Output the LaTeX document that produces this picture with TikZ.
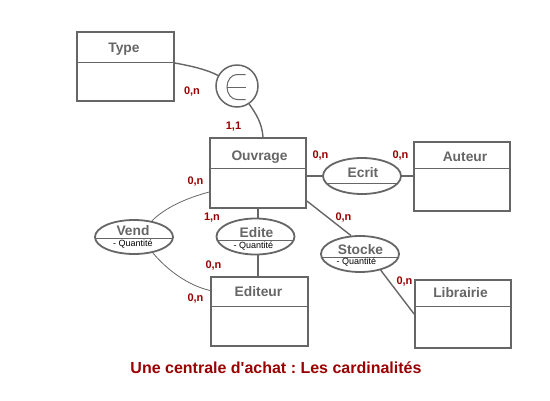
\documentclass[tikz,border=0pt]{standalone}
\usepackage{fontspec}
\setmainfont{Liberation Sans}
\frenchspacing
\usetikzlibrary{shapes.geometric,calc}
\definecolor{linegray}{HTML}{666666}
\definecolor{txtgray}{HTML}{666666}
\definecolor{cardred}{HTML}{990000}
\tikzset{
  entity/.style={draw=linegray, line width=1.8pt, rectangle, inner sep=0pt, fill=white},
  assoc/.style={draw=linegray, line width=1.8pt, ellipse, inner sep=0pt, minimum width=78pt, minimum height=36pt, fill=white},
  divider/.style={draw=linegray, line width=0.9pt},
  conn/.style={draw=linegray, line width=1.4pt},
  thinconn/.style={draw=linegray, line width=0.8pt},
  ename/.style={font=\fontsize{13.8}{15}\selectfont\bfseries, text=txtgray, inner sep=0pt},
  aname/.style={font=\fontsize{13.8}{15}\selectfont\bfseries, text=txtgray, inner sep=0pt},
  attr/.style={font=\fontsize{9}{10}\selectfont, text=black, inner sep=0pt},
  card/.style={font=\fontsize{11}{12}\selectfont\bfseries, text=cardred, inner sep=0pt},
  titletext/.style={font=\fontsize{16}{18}\selectfont\bfseries, text=cardred, inner sep=0pt}
}
\begin{document}
\begin{tikzpicture}[x=1pt,y=-1pt]
\useasboundingbox[fill=white] (0,0) rectangle (550,400);

% entities
\node[entity, minimum width=97pt, minimum height=69pt] (type) at (125.5,66.5) {};
\draw[divider] ([yshift=-31pt]type.north west) -- ([yshift=-31pt]type.north east);
\node[ename] (typel) at (124,49) {Type};

\node[entity, minimum width=96pt, minimum height=70pt] (ouvrage) at (258,173) {};
\draw[divider] ([yshift=-31pt]ouvrage.north west) -- ([yshift=-31pt]ouvrage.north east);
\node[ename] (ouvragel) at (259.5,157) {Ouvrage};

\node[entity, minimum width=96pt, minimum height=69pt] (auteur) at (462,176.5) {};
\draw[divider] ([yshift=-27pt]auteur.north west) -- ([yshift=-27pt]auteur.north east);
\node[ename] (auteurl) at (465,157) {Auteur};

\node[entity, minimum width=96pt, minimum height=68pt] (librairie) at (463,314) {};
\draw[divider] ([yshift=-27pt]librairie.north west) -- ([yshift=-27pt]librairie.north east);
\node[ename] (librairiel) at (460.5,293) {Librairie};

\node[entity, minimum width=97pt, minimum height=69pt] (editeur) at (259.5,311.5) {};
\draw[divider] ([yshift=-30pt]editeur.north west) -- ([yshift=-30pt]editeur.north east);
\node[ename] (editeurl) at (258.5,292) {Editeur};

% associations
\node[assoc] (ecrit) at (362,176) {};
\begin{scope}
  \clip (ecrit.center) ellipse [x radius=39, y radius=18];
  \draw[divider] ($(ecrit.center)+(-40,7)$) -- ($(ecrit.center)+(40,7)$);
\end{scope}
\node[aname] (ecritl) at (363,173) {Ecrit};

\node[assoc] (edite) at (255.5,236.5) {};
\begin{scope}
  \clip (edite.center) ellipse [x radius=39, y radius=18];
  \draw[divider] ($(edite.center)+(-40,3.5)$) -- ($(edite.center)+(40,3.5)$);
\end{scope}
\node[aname] (editel) at (256.5,232.5) {Edite};
\node[attr] (editea) at (253.5,246.5) {- Quantité};

\node[assoc] (stocke) at (360,254) {};
\begin{scope}
  \clip (stocke.center) ellipse [x radius=39, y radius=18];
  \draw[divider] ($(stocke.center)+(-40,3.5)$) -- ($(stocke.center)+(40,3.5)$);
\end{scope}
\node[aname] (stockel) at (360.5,249.5) {Stocke};
\node[attr] (stockea) at (356.5,262) {- Quantité};

\node[assoc, minimum height=34pt] (vend) at (134,237) {};
\begin{scope}
  \clip (vend.center) ellipse [x radius=39, y radius=17];
  \draw[divider] ($(vend.center)+(-40,1.5)$) -- ($(vend.center)+(40,1.5)$);
\end{scope}
\node[aname] (vendl) at (133,230.5) {Vend};
\node[attr] (venda) at (133,244) {- Quantité};

% element-of circle
\node[draw=linegray, line width=1.5pt, circle, minimum size=42pt, inner sep=0pt] (elt) at (237,86) {};
\draw[draw=linegray, line width=1pt]
  ($(elt.center)+(8.5,-11.5)$) -- ($(elt.center)+(0,-11.5)$)
  arc[start angle=270, end angle=90, x radius=10, y radius=12.5]
  -- ($(elt.center)+(8.5,13.5)$);
\draw[draw=linegray, line width=1pt] ($(elt.center)+(-10,1)$) -- ($(elt.center)+(8.5,1)$);

% connectors
\draw[conn] ([yshift=3.5pt]type.east) .. controls +(16,3) and +(-11,-6) .. (elt.151);
\draw[conn] (elt.-56) .. controls +(7,10) and +(-1,-14) .. ([xshift=5pt]ouvrage.north);
\draw[conn] ([yshift=-3pt]ouvrage.east) -- (ecrit.west);
\draw[conn] (ecrit.east) -- (ecrit.east -| auteur.west);
\draw[conn] (ouvrage.south) -- (ouvrage.south |- edite.north);
\draw[conn] (ouvrage.south |- edite.south) -- (ouvrage.south |- editeur.north);
\draw[conn] ([yshift=-28pt]ouvrage.east) -- (stocke.116);
\draw[conn] (stocke.-38) -- (librairie.west);
\draw[thinconn] ([yshift=-19pt]ouvrage.west) .. controls +(-22,6) and +(14,-14) .. (vend.42);
\draw[thinconn] (vend.-40) .. controls +(14,17) and +(-22,-5) .. ([yshift=21pt]editeur.west);

% cardinalities
\node[card] (c1) at (192,92) {0,n};
\node[card] (c2) at (233.5,127) {1,1};
\node[card] (c3) at (320.5,156) {0,n};
\node[card] (c4) at (400.5,156) {0,n};
\node[card] (c5) at (195.5,182) {0,n};
\node[card] (c6) at (212,218) {1,n};
\node[card] (c7) at (343.5,218) {0,n};
\node[card] (c8) at (213.5,266) {0,n};
\node[card] (c9) at (404.5,282) {0,n};
\node[card] (c10) at (195.5,299) {0,n};

% title
\node[titletext] (title) at (276,368) {Une centrale d\textquotesingle achat : Les cardinalités};
\end{tikzpicture}
\end{document}
